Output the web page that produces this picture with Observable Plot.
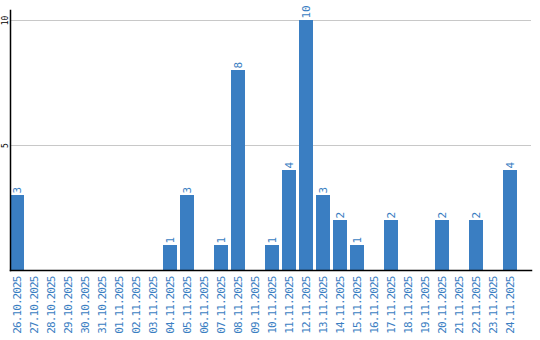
<!DOCTYPE html>
<html>
<head>
<meta charset="utf-8">
<script src="https://cdn.jsdelivr.net/npm/d3@7"></script>
<script src="https://cdn.jsdelivr.net/npm/@observablehq/plot@0.6"></script>
<style>
  html, body { margin: 0; padding: 0; background: #fff; }
  #chart svg text.blue-text, #chart svg g[aria-label="x-axis tick label"] text { letter-spacing: -0.9px; }
</style>
</head>
<body>
<div id="chart"></div>
<script>
const dates = [
  "26.10.2025","27.10.2025","28.10.2025","29.10.2025","30.10.2025","31.10.2025",
  "01.11.2025","02.11.2025","03.11.2025","04.11.2025","05.11.2025","06.11.2025",
  "07.11.2025","08.11.2025","09.11.2025","10.11.2025","11.11.2025","12.11.2025",
  "13.11.2025","14.11.2025","15.11.2025","16.11.2025","17.11.2025","18.11.2025",
  "19.11.2025","20.11.2025","21.11.2025","22.11.2025","23.11.2025","24.11.2025"
];
const counts = [
  3,0,0,0,0,0,
  0,0,0,1,3,0,
  1,8,0,1,4,10,
  3,2,1,0,2,0,
  0,2,0,2,0,4
];
const yTicks = [5, 10];

const data = dates.map((d, i) => ({date: d, value: counts[i]}));
const nonzero = data.filter(d => d.value > 0);

const blue = "#3a7ec2";
const font = "DejaVu Sans Mono";

const chart = Plot.plot({
  width: 540,
  height: 340,
  marginLeft: 10,
  marginRight: 9,
  marginTop: 10,
  marginBottom: 70,
  style: {fontFamily: font, background: "#fff"},
  x: {domain: dates, range: [10, 517], paddingInner: 3/17, paddingOuter: 0, axis: null},
  y: {domain: [0, 10.4], axis: null},
  marks: [
    Plot.gridY(yTicks, {stroke: "#c8c8c8", strokeOpacity: 1}),
    Plot.barY(data, {x: "date", y: "value", fill: blue}),
    Plot.text(nonzero, {x: "date", y: "value", text: d => String(d.value), rotate: -90,
      textAnchor: "start", lineAnchor: "middle", dy: -2, fill: blue, fontSize: 11,
      className: "blue-text"}),
    Plot.axisX({tickRotate: -90, tickSize: 0, tickPadding: 6, fill: blue, fontSize: 11, label: null}),
    Plot.text(yTicks, {y: d => d, text: d => String(d), frameAnchor: "left", dx: -5,
      rotate: -90, textAnchor: "middle", lineAnchor: "middle", fill: "black", fontSize: 8}),
    Plot.frame({anchor: "left", stroke: "black", strokeWidth: 1.5}),
    Plot.frame({anchor: "bottom", stroke: "black", strokeWidth: 1.5})
  ]
});
document.getElementById("chart").appendChild(chart);
</script>
</body>
</html>
